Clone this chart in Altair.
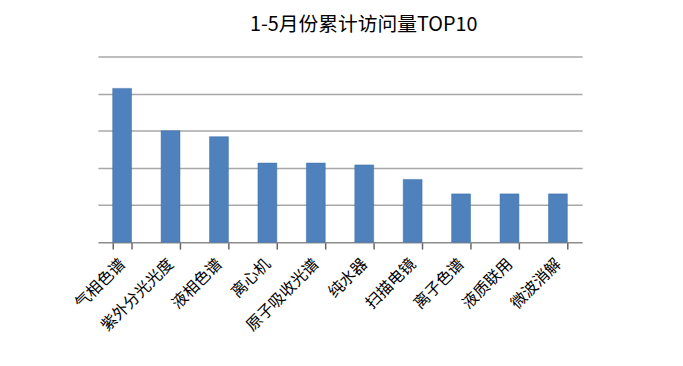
import altair as alt
import pandas as pd

categories = ["气相色谱", "紫外分光光度", "液相色谱", "离心机", "原子吸收光谱",
              "纯水器", "扫描电镜", "离子色谱", "液质联用", "微波消解"]
values = [4.14, 3.0, 2.84, 2.13, 2.13, 2.08, 1.69, 1.30, 1.30, 1.30]

df = pd.DataFrame({"cat": categories, "val": values})

font = "Noto Sans CJK SC"

chart = alt.Chart(df).mark_bar(color="#4f81bd", stroke="#3a6ea5", strokeWidth=0.5).encode(
    x=alt.X("cat:N", sort=categories,
            scale=alt.Scale(paddingInner=0.61, paddingOuter=0.305),
            axis=alt.Axis(title=None, labelAngle=-45, labelAlign="right", labelBaseline="middle",
                          labelFont=font, labelFontSize=16, labelColor="#000000",
                          labelPadding=12, tickSize=7, tickColor="#666666", domainColor="#8c8c8c",
                          domainWidth=1.5, tickWidth=1.5, tickBand="extent", ticks=True,
                          tickOpacity=1)),
    y=alt.Y("val:Q", scale=alt.Scale(domain=[0, 5], nice=False),
            axis=alt.Axis(title=None, labels=False, ticks=False, domain=False,
                          values=[1, 2, 3, 4, 5],
                          gridColor="#a8a8a8", gridWidth=1.5)),
).properties(
    width=490, height=188,
    title=alt.Title("1-5月份累计访问量TOP10", font=font, fontSize=20, fontWeight="normal",
                    color="#000000", anchor="middle", dx=24, offset=22),
    autosize=alt.AutoSizeParams(type="none"),
    padding={"left": 91, "top": 47, "right": 94, "bottom": 100},
).configure_view(stroke=None)

chart.save("out.html", embed_options={"renderer": "svg", "actions": False})
